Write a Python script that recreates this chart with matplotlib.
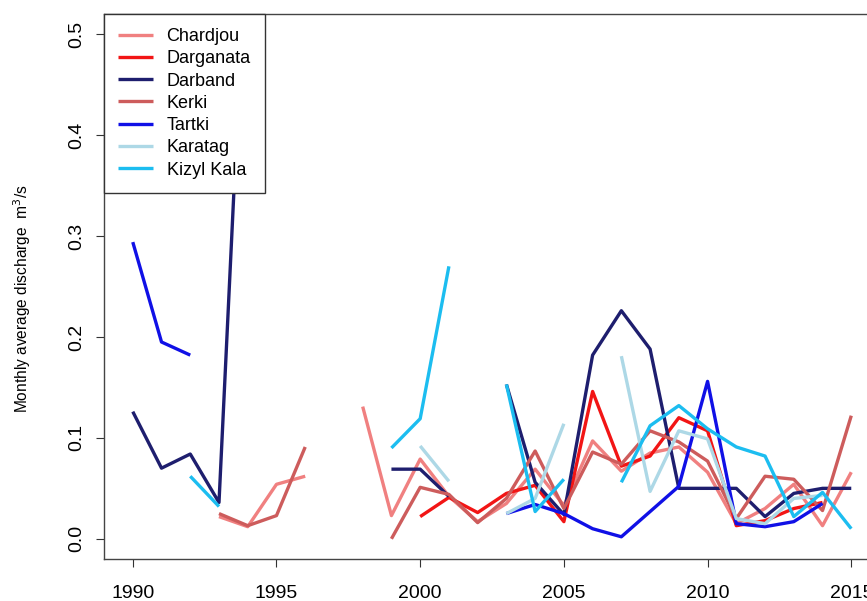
import matplotlib
matplotlib.use("Agg")
import matplotlib.pyplot as plt
import numpy as np

plt.rcParams['font.family'] = ['Liberation Sans', 'DejaVu Sans']

nan = np.nan
years = list(range(1990, 2016))

chardjou = [nan, nan, nan, 0.022, 0.012, 0.054, 0.062, nan, 0.131, 0.023,
            0.079, 0.042, 0.017, 0.035, 0.069, 0.033, 0.097, 0.067, 0.085, 0.091,
            0.066, 0.015, 0.030, 0.054, 0.013, 0.066]
darganata = [nan, nan, nan, nan, nan, nan, nan, nan, nan, nan,
             0.022, 0.041, 0.026, 0.045, 0.053, 0.017, 0.146, 0.072, 0.082, 0.120,
             0.107, 0.013, 0.018, 0.030, 0.036, nan]
darband = [0.126, 0.070, 0.084, 0.036, 0.63, nan, nan, nan, nan, 0.069,
           0.069, 0.042, nan, 0.153, 0.056, 0.024, 0.182, 0.226, 0.188, 0.050,
           0.050, 0.050, 0.022, 0.045, 0.050, 0.050]
kerki = [nan, nan, nan, 0.025, 0.013, 0.023, 0.091, nan, nan, 0.0,
         0.051, 0.044, 0.016, 0.040, 0.087, 0.030, 0.086, 0.074, 0.107, 0.096,
         0.077, 0.020, 0.062, 0.059, 0.028, 0.122]
tartki = [0.294, 0.195, 0.182, nan, nan, nan, nan, nan, nan, nan,
          nan, nan, nan, 0.025, 0.034, 0.025, 0.010, 0.002, 0.027, 0.052,
          0.156, 0.015, 0.012, 0.017, 0.035, nan]
karatag = [nan, nan, nan, nan, nan, nan, nan, nan, nan, nan,
           0.092, 0.057, nan, 0.025, 0.040, 0.114, nan, 0.181, 0.047, 0.107,
           0.099, 0.020, 0.015, 0.040, 0.043, nan]
kizyl_kala = [nan, nan, 0.062, 0.032, nan, nan, nan, nan, nan, 0.090,
              0.119, 0.270, nan, 0.153, 0.027, 0.059, nan, 0.056, 0.112, 0.132,
              0.109, 0.091, 0.082, 0.022, 0.046, 0.010]

stations = ['Chardjou', 'Darganata', 'Darband', 'Kerki', 'Tartki', 'Karatag', 'Kizyl Kala']
series = [chardjou, darganata, darband, kerki, tartki, karatag, kizyl_kala]
colors = ['#F08080', '#F21515', '#1E1E6E', '#CD5C5C', '#1010E6', '#ADD8E6', '#1CBDF0']

fig = plt.figure(figsize=(8.67, 6.01), dpi=100)
ax = fig.add_axes([0.12, 0.0699, 0.895, 0.9068])

for name, vals, c in zip(stations, series, colors):
    ax.plot(years, vals, color=c, lw=2.4, label=name, solid_capstyle='butt')

ax.set_xlim(1989, 2016)
ax.set_ylim(-0.02, 0.52)
ax.set_xticks([1990, 1995, 2000, 2005, 2010, 2015])
ax.set_yticks([0.0, 0.1, 0.2, 0.3, 0.4, 0.5])
ax.set_yticklabels(['0.0', '0.1', '0.2', '0.3', '0.4', '0.5'], rotation=90, va='center')
ax.tick_params(direction='out', length=5.5, width=0.8, labelsize=14, colors='#333333',
               labelcolor='black')
ax.tick_params(axis='x', pad=13.5)
ax.tick_params(axis='y', pad=8)
for s in ax.spines.values():
    s.set_color('#444444')
    s.set_linewidth(1.0)

ax.set_ylabel('Monthly average discharge  m$^3$/s', fontsize=11.2)
ax.yaxis.set_label_coords(-0.092, 0.477)

leg = ax.legend(loc='upper left', borderaxespad=0, fontsize=13, frameon=True,
                fancybox=False, edgecolor='#333333', framealpha=1,
                handlelength=1.93, handletextpad=0.75, labelspacing=0.29, borderpad=0.78)
leg.get_frame().set_linewidth(1.0)

plt.savefig('out.png', dpi=100)
